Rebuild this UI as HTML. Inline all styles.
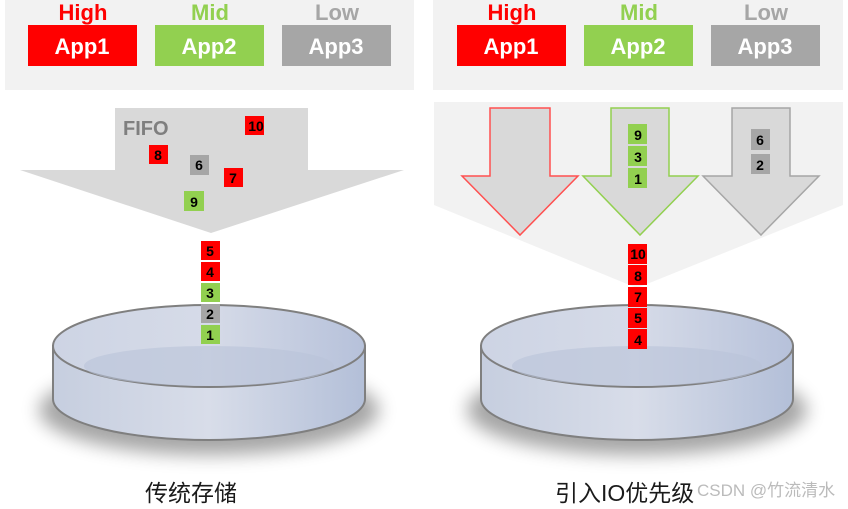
<!DOCTYPE html>
<html><head><meta charset="utf-8"><style>
html,body{margin:0;padding:0;background:#fff;}
svg{display:block}
</style></head><body>
<svg width="848" height="509" viewBox="0 0 848 509" xmlns="http://www.w3.org/2000/svg">
<defs>
<linearGradient id="dg" x1="0" x2="1" y1="0" y2="0">
<stop offset="0" stop-color="#c6cedf"/><stop offset="0.5" stop-color="#d8dde9"/><stop offset="1" stop-color="#b3bfd8"/>
</linearGradient>
<linearGradient id="tg" x1="0" x2="1" y1="0" y2="0">
<stop offset="0" stop-color="#cdd4e4"/><stop offset="0.5" stop-color="#d6dbe8"/><stop offset="1" stop-color="#b6c1da"/>
</linearGradient>
<filter id="sh" x="-20%" y="-50%" width="140%" height="200%"><feGaussianBlur stdDeviation="9"/></filter>
</defs>
<g font-family="Liberation Sans, sans-serif" font-weight="bold">
<!-- top panels -->
<rect x="5" y="0" width="409" height="90" fill="#f2f2f2"/>
<rect x="433" y="0" width="410" height="90" fill="#f2f2f2"/>
<g font-size="22" text-anchor="middle">
<text x="83" y="20" fill="#ff0000">High</text>
<text x="210" y="20" fill="#92d050">Mid</text>
<text x="337" y="20" fill="#a6a6a6">Low</text>
<text x="512" y="20" fill="#ff0000">High</text>
<text x="639" y="20" fill="#92d050">Mid</text>
<text x="766" y="20" fill="#a6a6a6">Low</text>
</g>
<rect x="28" y="25" width="109" height="41" fill="#ff0000"/>
<rect x="155" y="25" width="109" height="41" fill="#92d050"/>
<rect x="282" y="25" width="109" height="41" fill="#a6a6a6"/>
<rect x="457" y="25" width="109" height="41" fill="#ff0000"/>
<rect x="584" y="25" width="109" height="41" fill="#92d050"/>
<rect x="711" y="25" width="109" height="41" fill="#a6a6a6"/>
<g font-size="22" fill="#fff" text-anchor="middle">
<text x="82" y="54">App1</text><text x="209" y="54">App2</text><text x="336" y="54">App3</text>
<text x="511" y="54">App1</text><text x="638" y="54">App2</text><text x="765" y="54">App3</text>
</g>

<!-- left FIFO arrow -->
<polygon points="115,108 308,108 308,170 404,170 211,233 20,170 115,170" fill="#d9d9d9"/>
<text x="123" y="135" font-size="20" fill="#7f7f7f">FIFO</text>

<!-- right funnel -->
<polygon points="434,102 843,102 843,205 637,288 434,205" fill="#f2f2f2"/>
<polygon points="490,108 550,108 550,176 578,176 520,235 462,176 490,176" fill="#d9d9d9" stroke="#ff5050" stroke-width="1.5"/>
<polygon points="611,108 669,108 669,176 698,176 640,235 583,176 611,176" fill="#d9d9d9" stroke="#92d050" stroke-width="1.5"/>
<polygon points="732,108 790,108 790,176 819,176 761,235 703,176 732,176" fill="#d9d9d9" stroke="#a6a6a6" stroke-width="1.5"/>

<!-- disks -->
<ellipse cx="209" cy="410" rx="170" ry="45" fill="#000" opacity="0.35" filter="url(#sh)"/>
<ellipse cx="637" cy="410" rx="170" ry="45" fill="#000" opacity="0.35" filter="url(#sh)"/>
<g stroke="#7f7f7f" stroke-width="2">
<path d="M53,346 L53,399 A156,41 0 0 0 365,399 L365,346 Z" fill="url(#dg)"/>
<ellipse cx="209" cy="346" rx="156" ry="41" fill="url(#tg)"/>
<path d="M481,346 L481,399 A156,41 0 0 0 793,399 L793,346 Z" fill="url(#dg)"/>
<ellipse cx="637" cy="346" rx="156" ry="41" fill="url(#tg)"/>
</g>
<ellipse cx="209" cy="366" rx="125" ry="20" fill="#b9c3d9" opacity="0.6"/>
<ellipse cx="637" cy="366" rx="125" ry="20" fill="#b9c3d9" opacity="0.6"/>

<!-- squares -->
<g font-size="14" text-anchor="middle" fill="#000">
<rect x="245" y="116" width="19" height="19" fill="#ff0000"/><text x="256" y="131">10</text>
<rect x="149" y="145" width="19" height="19" fill="#ff0000"/><text x="158" y="160">8</text>
<rect x="190" y="155" width="19" height="20" fill="#a6a6a6"/><text x="199" y="170">6</text>
<rect x="224" y="168" width="19" height="19" fill="#ff0000"/><text x="233" y="183">7</text>
<rect x="184" y="191" width="20" height="20" fill="#92d050"/><text x="194" y="207">9</text>

<rect x="201" y="241" width="19" height="19" fill="#ff0000"/><text x="210" y="256">5</text>
<rect x="201" y="262" width="19" height="19" fill="#ff0000"/><text x="210" y="277">4</text>
<rect x="201" y="283" width="19" height="19" fill="#92d050"/><text x="210" y="298">3</text>
<rect x="201" y="304" width="19" height="19" fill="#a6a6a6"/><text x="210" y="319">2</text>
<rect x="201" y="325" width="19" height="19" fill="#92d050"/><text x="210" y="340">1</text>

<rect x="628" y="124" width="19" height="20" fill="#92d050"/><text x="638" y="140">9</text>
<rect x="628" y="146" width="19" height="20" fill="#92d050"/><text x="638" y="162">3</text>
<rect x="628" y="168" width="19" height="20" fill="#92d050"/><text x="638" y="184">1</text>
<rect x="751" y="129" width="19" height="21" fill="#a6a6a6"/><text x="760" y="145">6</text>
<rect x="751" y="154" width="19" height="20" fill="#a6a6a6"/><text x="760" y="170">2</text>

<rect x="628" y="244" width="19" height="20" fill="#ff0000"/><text x="638" y="259">10</text>
<rect x="628" y="265" width="19" height="20" fill="#ff0000"/><text x="638" y="281">8</text>
<rect x="628" y="287" width="19" height="20" fill="#ff0000"/><text x="638" y="302">7</text>
<rect x="628" y="308" width="19" height="20" fill="#ff0000"/><text x="638" y="323">5</text>
<rect x="628" y="329" width="19" height="20" fill="#ff0000"/><text x="638" y="345">4</text>
</g>
</g>
<g font-family="Liberation Sans, 'Noto Sans CJK SC', sans-serif" font-size="23" fill="#1a1a1a">
<text x="145" y="501">传统存储</text>
<text x="555" y="501">引入IO优先级</text>
</g>
<text x="697" y="496" font-family="Liberation Sans, 'Noto Sans CJK SC', sans-serif" font-size="17" fill="#bbbbbb">CSDN @竹流清水</text>
</svg>
</body></html>
